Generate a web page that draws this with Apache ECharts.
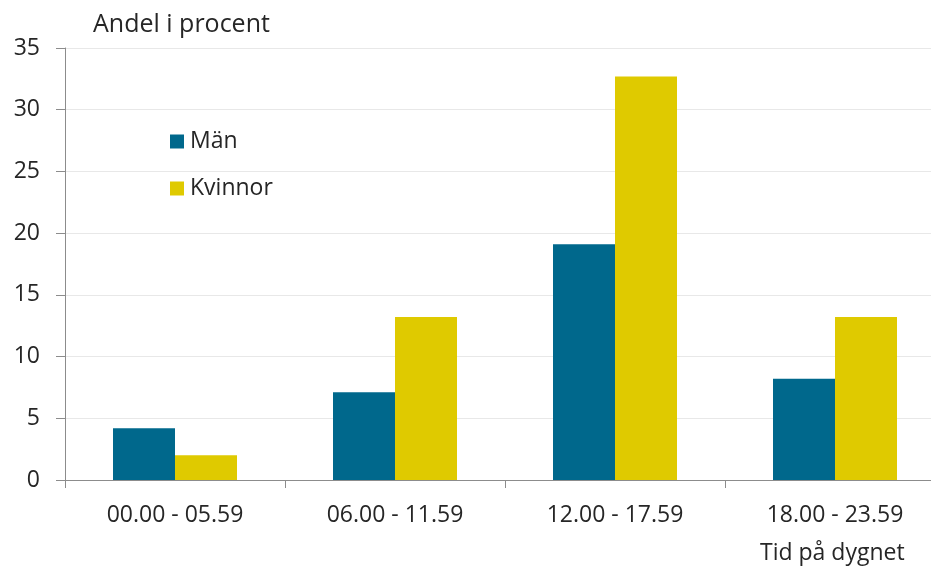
<!DOCTYPE html>
<html>
<head>
<meta charset="utf-8">
<script src="https://cdn.jsdelivr.net/npm/echarts@6/dist/echarts.min.js"></script>
<style>
  html, body { margin: 0; padding: 0; background: #fff; overflow: hidden; }
  #wrap { width: 931px; height: 570px; overflow: hidden; }
  /* the drawing surface is wider than the page; the last category band runs off the right edge */
  #chart { width: 960px; height: 570px; }
</style>
</head>
<body>
<div id="wrap"><div id="chart"></div></div>
<script>
// Tid på dygnet – andel i procent per kön
const categories = ['00.00 - 05.59', '06.00 - 11.59', '12.00 - 17.59', '18.00 - 23.59'];
const manValues = [4.2, 7.1, 19.1, 8.2];
const kvinnorValues = [2.0, 13.2, 32.7, 13.2];
const seriesNames = ['Män', 'Kvinnor'];
const yTicks = [0, 5, 10, 15, 20, 25, 30, 35];

const FONT = '"Open Sans", "Noto Sans", sans-serif';
const TEXT = '#262626';

const chart = echarts.init(document.getElementById('chart'), null, { renderer: 'canvas' });

chart.setOption({
  animation: false,
  backgroundColor: '#ffffff',
  textStyle: { fontFamily: FONT },
  title: [
    {
      text: 'Andel i procent',
      left: 88, top: 7,
      textStyle: { fontFamily: FONT, fontSize: 25, fontWeight: 'normal', color: TEXT }
    },
    {
      text: 'Tid på dygnet',
      left: 755, top: 537,
      textStyle: { fontFamily: FONT, fontSize: 23, fontWeight: 'normal', color: TEXT }
    }
  ],
  legend: {
    orient: 'vertical',
    left: 165, top: 125,
    itemWidth: 14, itemHeight: 14,
    itemGap: 24,
    icon: 'rect',
    data: seriesNames,
    textStyle: { fontFamily: FONT, fontSize: 23, color: TEXT, padding: [0, 0, 0, 1] }
  },
  grid: { left: 65, right: 15, top: 48, bottom: 90, containLabel: false },
  xAxis: {
    type: 'category',
    data: categories,
    axisLine: { show: true, lineStyle: { color: '#8c8c8c', width: 1 } },
    axisTick: { show: true, length: 8, alignWithLabel: false, lineStyle: { color: '#8c8c8c' } },
    axisLabel: { fontFamily: FONT, fontSize: 23, color: TEXT, margin: 24 },
    splitLine: { show: false }
  },
  yAxis: {
    type: 'value',
    min: yTicks[0],
    max: yTicks[yTicks.length - 1],
    interval: 5,
    axisLine: { show: true, lineStyle: { color: '#8c8c8c', width: 1 } },
    axisTick: { show: true, length: 9, lineStyle: { color: '#8c8c8c' } },
    axisLabel: { fontFamily: FONT, fontSize: 23, color: TEXT, margin: 25 },
    splitLine: { show: true, lineStyle: { color: '#e8e8e8', width: 1 } }
  },
  series: [
    {
      name: seriesNames[0],
      type: 'bar',
      data: manValues,
      barWidth: 62,
      barGap: '0%',
      itemStyle: { color: '#00688c' }
    },
    {
      name: seriesNames[1],
      type: 'bar',
      data: kvinnorValues,
      barWidth: 62,
      barGap: '0%',
      itemStyle: { color: '#dfca00' }
    }
  ]
});
</script>
</body>
</html>
